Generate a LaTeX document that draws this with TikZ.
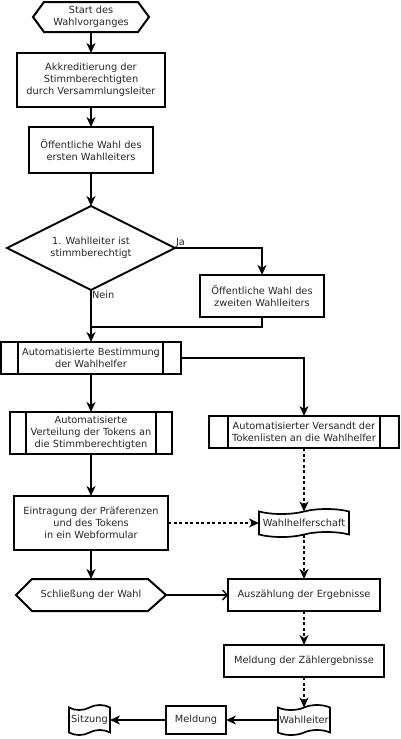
\documentclass[tikz,border=0pt]{standalone}
\usepackage{fontspec}
\setmainfont{DejaVu Sans}
\usetikzlibrary{arrows.meta,shapes.symbols}
\begin{document}
\begin{tikzpicture}[x=1pt,y=-1pt,
  every node/.style={font=\fontsize{9.8}{12}\selectfont, outer sep=0pt, text=black!85},
  bx/.style={draw=black, line width=2pt, align=center, inner sep=0pt},
  hid/.style={align=center, inner sep=0pt},
  bd/.style={draw=black, line width=2pt, line join=miter},
  tp/.style={draw=black, line width=1.7pt, shape=tape, tape bend top=in and out,
    tape bend bottom=in and out, tape bend height=5pt, align=center, inner sep=1pt},
  arr/.style={draw=black, line width=2pt, -{Stealth[length=10pt,width=9pt,inset=3pt]}},
  darr/.style={arr, dash pattern=on 3pt off 2.5pt},
  plain/.style={draw=black, line width=2pt},
  lbl/.style={inner sep=1pt}
]
\useasboundingbox (0,0) rectangle (400,739);

% nodes
\node[hid, minimum width=116pt, minimum height=30pt] (start) at (91,17) {Start des\\Wahlvorganges};
\draw[bd] (start.west) -- ([xshift=11pt]start.north west) -- ([xshift=-11pt]start.north east) -- (start.east) -- ([xshift=-11pt]start.south east) -- ([xshift=11pt]start.south west) -- cycle;

\node[bx, minimum width=148pt, minimum height=54pt] (akk) at (91,80) {Akkreditierung der\\Stimmberechtigten\\durch Versammlungsleiter};

\node[bx, minimum width=124pt, minimum height=46pt] (oef1) at (91,150) {Öffentliche Wahl des\\ersten Wahlleiters};

\node[hid, minimum width=168pt, minimum height=84pt] (dia) at (91,248) {1. Wahlleiter ist\\stimmberechtigt};
\draw[bd] (dia.north) -- (dia.east) -- (dia.south) -- (dia.west) -- cycle;

\node[bx, minimum width=124pt, minimum height=42pt] (oef2) at (262,296) {Öffentliche Wahl des\\zweiten Wahlleiters};

\coordinate (join) at (91,327);

\node[bx, minimum width=180pt, minimum height=32pt] (bes) at (91,358) {Automatisierte Bestimmung\\der Wahlhelfer};
\draw[bd] ([xshift=17pt]bes.north west) -- ([xshift=17pt]bes.south west);
\draw[bd] ([xshift=-18pt]bes.north east) -- ([xshift=-18pt]bes.south east);

\node[bx, minimum width=190pt, minimum height=32pt] (ver) at (304,432) {Automatisierter Versandt der\\Tokenlisten an die Wahlhelfer};
\draw[bd] ([xshift=19pt]ver.north west) -- ([xshift=19pt]ver.south west);
\draw[bd] ([xshift=-19pt]ver.north east) -- ([xshift=-19pt]ver.south east);

\node[bx, minimum width=162pt, minimum height=42pt] (vtl) at (91,433) {Automatisierte\\Verteilung der Tokens an\\die Stimmberechtigten};
\draw[bd] ([xshift=16pt]vtl.north west) -- ([xshift=16pt]vtl.south west);
\draw[bd] ([xshift=-16pt]vtl.north east) -- ([xshift=-16pt]vtl.south east);

\node[bx, minimum width=154pt, minimum height=54pt] (ein) at (91,523) {Eintragung der Präferenzen\\und des Tokens\\in ein Webformular};

\node[tp, minimum width=90pt, minimum height=28pt] (whs) at (304,523) {Wahlhelferschaft};

\node[hid, minimum width=150pt, minimum height=32pt] (sch) at (91,595) {Schließung der Wahl};
\draw[bd] (sch.west) -- ([xshift=16pt]sch.north west) -- ([xshift=-18pt]sch.north east) -- (sch.east) -- ([xshift=-18pt]sch.south east) -- ([xshift=16pt]sch.south west) -- cycle;

\node[bx, minimum width=152pt, minimum height=32pt] (aus) at (304,595) {Auszählung der Ergebnisse};

\node[bx, minimum width=160pt, minimum height=32pt] (mel) at (304,661) {Meldung der Zählergebnisse};

\node[tp, minimum width=52pt, minimum height=30pt] (wl) at (304,720) {Wahlleiter};

\node[bx, minimum width=60pt, minimum height=28pt] (meld) at (196,720) {Meldung};

\node[tp, minimum width=41pt, minimum height=30pt] (sit) at (89.5,720) {Sitzung};

% connectors
\draw[arr] (start.south) -- (akk.north);
\draw[arr] (akk.south) -- (oef1.north);
\draw[arr] (oef1.south) -- (dia.north);
\draw[arr] (dia.east) -| (oef2.north);
\node[lbl, anchor=south west] (ja) at (dia.east) {Ja};
\draw[arr] (dia.south) -- (bes.north);
\node[lbl, anchor=north west] (nein) at (dia.south) {Nein};
\draw[plain] (oef2.south) |- (join);
\draw[arr] (bes.east) -| (ver.north);
\draw[arr] (bes.south) -- (vtl.north);
\draw[arr] (vtl.south) -- (ein.north);
\draw[darr] (ein.east) -- (whs.west);
\draw[darr] (ver.south) -- (whs.north);
\draw[darr] (whs.south) -- (aus.north);
\draw[arr] (ein.south) -- (sch.north);
\draw[draw=black, line width=1.4pt, -{Straight Barb[length=4.5pt,width=10pt]}] (sch.east) -- (aus.west);
\draw[darr] (aus.south) -- (mel.north);
\draw[darr] (mel.south) -- (wl.north);
\draw[arr] (wl.west) -- (meld.east);
\draw[arr] (meld.west) -- (sit.east);
\end{tikzpicture}
\end{document}
